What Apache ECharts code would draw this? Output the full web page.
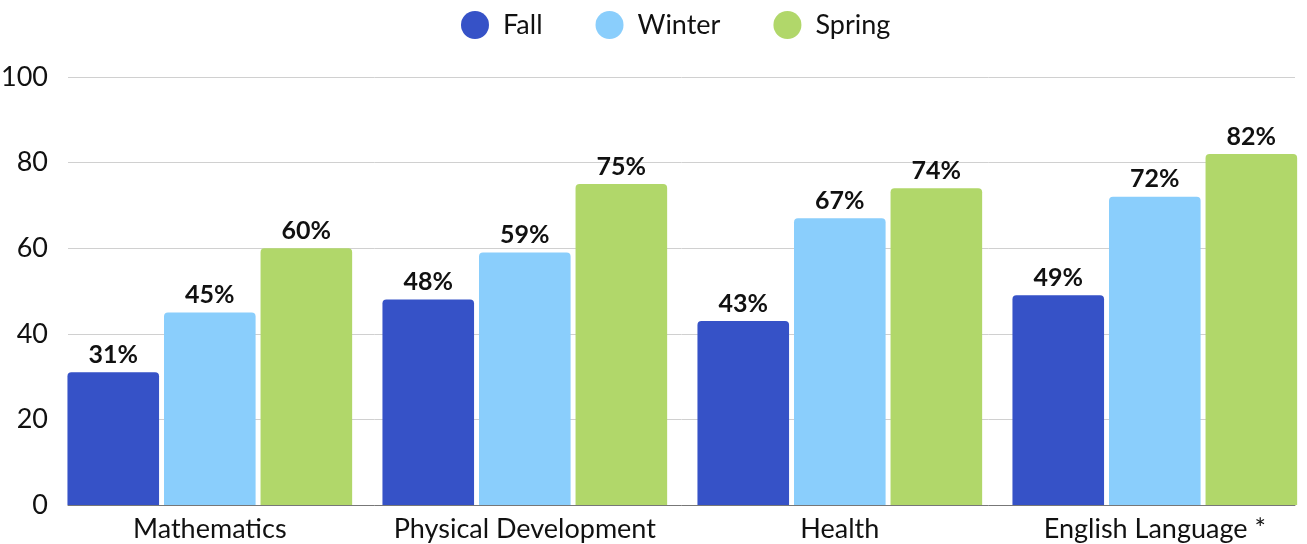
<!DOCTYPE html>
<html>
<head>
<meta charset="utf-8">
<script src="https://cdn.jsdelivr.net/npm/echarts@6/dist/echarts.min.js"></script>
<style>
  html, body { margin: 0; padding: 0; background: #fff; }
  #container { width: 1307px; height: 544px; }
</style>
</head>
<body>
<div id="container"></div>
<script>
var categories = ['Mathematics', 'Physical Development', 'Health', 'English Language *'];
var fallData = [31, 48, 43, 49];
var winterData = [45, 59, 67, 72];
var springData = [60, 75, 74, 82];
var yTicks = [0, 20, 40, 60, 80, 100];

var font = 'Lato, "Open Sans", sans-serif';

function barSeries(name, data, color) {
    return {
        name: name,
        type: 'bar',
        xAxisIndex: 0,
        yAxisIndex: 0,
        data: data,
        barWidth: 91.6,
        barGap: '5.4%',
        itemStyle: { color: color, borderRadius: [4, 4, 0, 0] },
        label: {
            show: true,
            position: 'top',
            distance: 5,
            formatter: '{c}%',
            color: '#111',
            fontFamily: font,
            fontWeight: 'bold',
            fontSize: 25
        }
    };
}

var myChart = echarts.init(document.getElementById('container'));
var option = {
    animation: false,
    legend: {
        top: 6,
        left: 456,
        icon: 'circle',
        itemWidth: 28,
        itemHeight: 28,
        itemGap: 53,
        textStyle: { fontFamily: font, fontSize: 27, color: '#111', padding: [0, 0, 0, 9] },
        data: ['Fall', 'Winter', 'Spring']
    },
    grid: [
        // bars (slightly wider than the canvas, so no clamping)
        { left: 52.3, top: 77, width: 1260, bottom: 39, outerBoundsMode: 'none' },
        // gridlines and y labels
        { left: 68, top: 77, right: 12, bottom: 39, outerBoundsMode: 'none' }
    ],
    xAxis: [
        {
            gridIndex: 0,
            type: 'category',
            data: categories,
            axisLine: { show: false },
            axisTick: { show: false },
            axisLabel: { interval: 0, fontFamily: font, fontSize: 27, color: '#111', margin: 11 }
        },
        {
            gridIndex: 1,
            type: 'value',
            min: 0,
            max: 1,
            axisLine: { show: true, lineStyle: { color: '#777', width: 1 } },
            axisTick: { show: false },
            axisLabel: { show: false },
            splitLine: { show: false }
        }
    ],
    yAxis: [
        {
            gridIndex: 0,
            type: 'value',
            min: yTicks[0],
            max: yTicks[yTicks.length - 1],
            interval: 20,
            axisLine: { show: false },
            axisTick: { show: false },
            axisLabel: { show: false },
            splitLine: { show: false }
        },
        {
            gridIndex: 1,
            type: 'value',
            min: yTicks[0],
            max: yTicks[yTicks.length - 1],
            interval: 20,
            axisLine: { show: false },
            axisTick: { show: false },
            axisLabel: { fontFamily: font, fontSize: 27, color: '#111', margin: 20 },
            splitLine: { show: true, lineStyle: { color: '#d0d0d0', width: 1 } }
        }
    ],
    series: [
        barSeries('Fall', fallData, '#3652C7'),
        barSeries('Winter', winterData, '#8ACEFC'),
        barSeries('Spring', springData, '#B1D76A')
    ]
};

myChart.setOption(option);
</script>
</body>
</html>
